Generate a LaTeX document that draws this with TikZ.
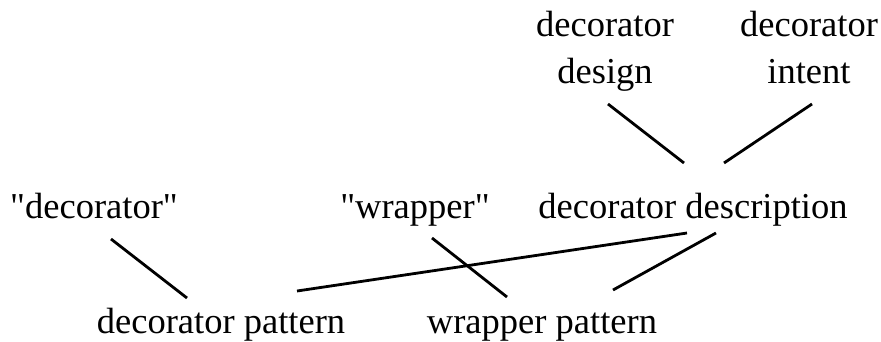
\documentclass[tikz,border=0pt]{standalone}
\usepackage{fontspec}
\setmainfont{Liberation Serif}
\usetikzlibrary{calc}
\begin{document}
\begin{tikzpicture}[x=1pt,y=-1pt,
  label/.style={anchor=base,inner sep=0pt,align=center,
    font=\fontsize{36.5}{47}\selectfont},
  link/.style={line width=2.8pt}]
\useasboundingbox (0,0) rectangle (881,341);
% terms (base anchor sits on the last line's baseline)
\node[label] (design) at (605,83) {decorator\\design};
\node[label] (intent) at (809,83) {decorator\\intent};
\node[label] (desc)   at (693,218) {decorator description};
\node[label] (qdec)   at (94,218)  {\textquotedbl decorator\textquotedbl};
\node[label] (qwrap)  at (415,218) {\textquotedbl wrapper\textquotedbl};
\node[label] (decpat) at (221,333) {decorator pattern};
\node[label] (wrappat) at (542,333) {wrapper pattern};
% associations
\draw[link] ($(design.base)+(3,21)$) -- ($(desc.base)+(-9,-55)$);
\draw[link] ($(intent.base)+(3,21)$) -- ($(desc.base)+(31,-55)$);
\draw[link] ($(qdec.base)+(17,21)$) -- ($(decpat.base)+(-34,-35)$);
\draw[link] ($(decpat.base)+(76,-42)$) -- ($(desc.base)+(-6,15)$);
\draw[link] ($(qwrap.base)+(17,20)$) -- ($(wrappat.base)+(-35,-36)$);
\draw[link] ($(desc.base)+(23,15)$) -- ($(wrappat.base)+(71,-43)$);
\end{tikzpicture}
\end{document}
